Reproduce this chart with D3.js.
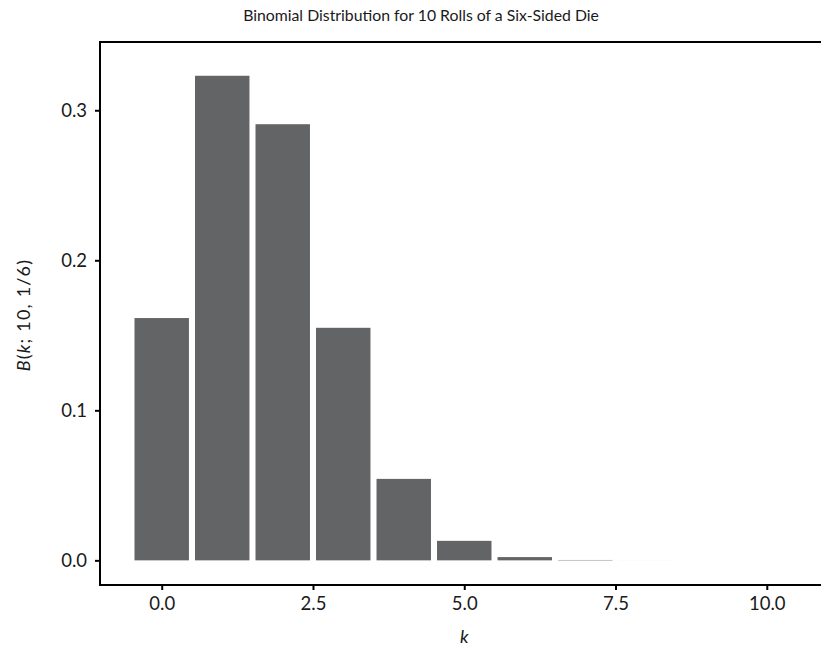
<!DOCTYPE html>
<html>
<head>
<meta charset="utf-8">
<script src="https://cdn.jsdelivr.net/npm/d3@7"></script>
<style>
  body { margin: 0; background: #fff; }
  svg { display: block; }
  text { font-family: "Lato", "Open Sans", sans-serif; fill: #1a1a1a; }
</style>
</head>
<body>
<svg id="chart" width="821" height="650"></svg>
<script>
// Data: binomial pmf for n = 10, p = 1/6
const kValues = [0, 1, 2, 3, 4, 5, 6, 7, 8, 9, 10];
const probabilities = [0.1615, 0.3230, 0.2907, 0.1550, 0.0543, 0.0130, 0.00217, 0.000248, 0.0000186, 0.0000008, 0.0000000165];
const xTicks = [0, 2.5, 5, 7.5, 10];
const yTicks = [0, 0.1, 0.2, 0.3];
const titleText = "Binomial Distribution for 10 Rolls of a Six-Sided Die";

const svg = d3.select("#chart");
const panel = { left: 100, top: 42, bottom: 585, right: 827 };

const x = d3.scaleLinear().domain([-1.02, 10.995]).range([panel.left, panel.right]);
const y = d3.scaleLinear().domain([-0.01643, 0.3455]).range([panel.bottom, panel.top]);

const barHalf = 0.45;

// bars
svg.append("g").selectAll("rect")
  .data(kValues.map((k, i) => ({ k, p: probabilities[i] })))
  .join("rect")
  .attr("x", d => x(d.k - barHalf))
  .attr("width", d => x(d.k + barHalf) - x(d.k - barHalf))
  .attr("y", d => y(d.p))
  .attr("height", d => y(0) - y(d.p))
  .attr("fill", "#636466");

// top border line
svg.append("line")
  .attr("x1", panel.left - 1).attr("x2", 821)
  .attr("y1", panel.top).attr("y2", panel.top)
  .attr("stroke", "#000").attr("stroke-width", 2);

// x axis
const xAxis = d3.axisBottom(x).tickValues(xTicks).tickFormat(d3.format(".1f")).tickSize(5).tickPadding(7);
const gx = svg.append("g").attr("transform", `translate(0,${panel.bottom})`).call(xAxis);
gx.select(".domain").attr("d", `M${panel.left - 1},0H821`).attr("stroke", "#000").attr("stroke-width", 2);
gx.selectAll(".tick line").attr("stroke", "#000").attr("stroke-width", 2);
gx.selectAll(".tick text").attr("font-size", 18.5).attr("fill", "#1a1a1a").style("font-family", "Lato, sans-serif");

// y axis
const yAxis = d3.axisLeft(y).tickValues(yTicks).tickFormat(d3.format(".1f")).tickSize(5).tickPadding(8);
const gy = svg.append("g").attr("transform", `translate(${panel.left},0)`).call(yAxis);
gy.select(".domain").attr("d", `M0,${panel.bottom + 1}V${panel.top - 1}`).attr("stroke", "#000").attr("stroke-width", 2);
gy.selectAll(".tick line").attr("stroke", "#000").attr("stroke-width", 2);
gy.selectAll(".tick text").attr("font-size", 18.5).attr("fill", "#1a1a1a").style("font-family", "Lato, sans-serif");

// title
svg.append("text")
  .attr("x", 421).attr("y", 21)
  .attr("text-anchor", "middle")
  .attr("font-size", 15.8)
  .text(titleText);

// x label
svg.append("text")
  .attr("x", x(5)).attr("y", 643)
  .attr("text-anchor", "middle")
  .attr("font-size", 18)
  .attr("font-style", "italic")
  .text("k");

// y label
const yl = svg.append("text")
  .attr("transform", `translate(30,315) rotate(-90)`)
  .attr("text-anchor", "middle")
  .attr("font-size", 18)
  .attr("letter-spacing", 1.2);
yl.append("tspan").attr("font-style", "italic").text("B");
yl.append("tspan").text("(");
yl.append("tspan").attr("font-style", "italic").text("k");
yl.append("tspan").text("; 10, 1/6)");
</script>
</body>
</html>
